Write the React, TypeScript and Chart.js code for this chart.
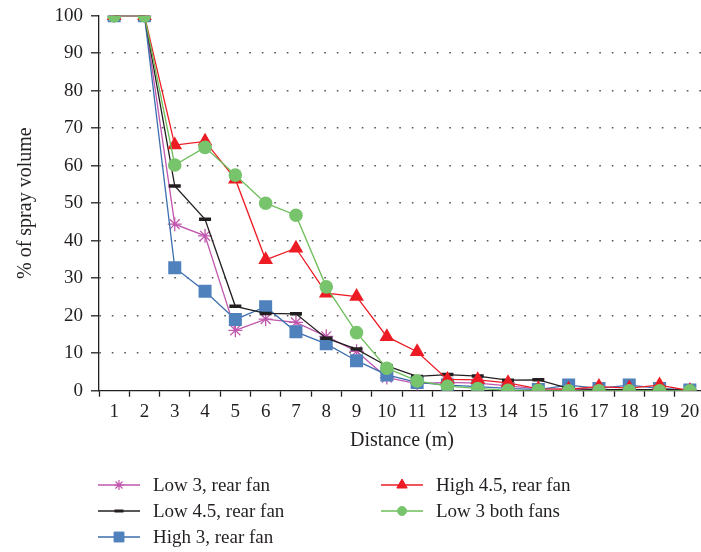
import React, { useEffect, useRef } from 'react';
import { Chart, registerables } from 'chart.js';
import { drawPoint } from 'chart.js/helpers';

Chart.register(...registerables);

const distances = ['1', '2', '3', '4', '5', '6', '7', '8', '9', '10', '11', '12', '13', '14', '15', '16', '17', '18', '19', '20'];
const low3Rear = [100, 100, 44.4, 41.3, 16.1, 19.1, 18.2, 14.5, 10.5, 3.5, 1.9, 2.2, 2.0, 1.3, 0.5, 0.4, 0.3, 0.3, 0.3, 0.2];
const low45Rear = [100, 100, 54.6, 45.7, 22.5, 20.6, 20.5, 14.0, 11.1, 6.6, 3.8, 4.3, 3.9, 2.8, 2.9, 0.6, 0.3, 0.3, 0.3, 0.2];
const high3Rear = [100, 100, 32.8, 26.5, 19.0, 22.4, 15.7, 12.5, 8.0, 4.2, 2.2, 1.5, 1.1, 0.6, 0.3, 1.5, 0.6, 1.5, 0.6, 0.2];
const high45Rear = [100, 100, 65.5, 66.5, 56.4, 34.9, 38.0, 26.0, 25.1, 14.4, 10.4, 3.0, 2.9, 2.1, 0.5, 0.4, 1.1, 0.7, 1.5, 0];
const low3Both = [100, 100, 60.2, 64.9, 57.5, 50.0, 46.8, 27.7, 15.5, 6.0, 2.6, 1.2, 0.6, 0.1, 0.1, 0, 0, 0, 0, 0];
const seriesNames = ['Low 3, rear fan', 'Low 4.5, rear fan', 'High 3, rear fan', 'High 4.5, rear fan', 'Low 3 both fans'];
const yTicks = [0, 10, 20, 30, 40, 50, 60, 70, 80, 90, 100];

const TEXT = '#231F20';
const FONT = "'Liberation Serif', 'Times New Roman', serif";

export default function App() {
  const ref = useRef<HTMLCanvasElement>(null);

  useEffect(() => {
    if (!ref.current) return;

    const legendSlots = [
      { col: 0, row: 0, pr: 5 },
      { col: 0, row: 1, pr: 4.5 },
      { col: 0, row: 2, pr: 7 },
      { col: 1, row: 0, pr: 6 },
      { col: 1, row: 1, pr: 4.5 },
    ];
    const colX = [98, 381];
    const rowY = [485, 511, 537];

    const legendPlugin = {
      id: 'customLegend',
      afterDraw(chart: any) {
        const ctx = chart.ctx;
        chart.data.datasets.forEach((ds: any, i: number) => {
          const slot = legendSlots[i];
          const x = colX[slot.col];
          const y = rowY[slot.row];
          ctx.save();
          ctx.strokeStyle = ds.borderColor;
          ctx.lineWidth = 1.4;
          ctx.beginPath();
          ctx.moveTo(x, y);
          ctx.lineTo(x + 42, y);
          ctx.stroke();
          ctx.fillStyle = ds.pointBackgroundColor;
          ctx.strokeStyle = ds.pointBorderColor;
          ctx.lineWidth = ds.pointStyle === 'line' ? 3 : ds.pointStyle === 'star' ? 1.2 : 1;
          drawPoint(ctx, { pointStyle: ds.pointStyle, radius: slot.pr, rotation: 0, borderWidth: ctx.lineWidth }, x + 21, y);
          ctx.fillStyle = TEXT;
          ctx.font = `19px ${FONT}`;
          ctx.textBaseline = 'middle';
          ctx.textAlign = 'left';
          ctx.fillText(seriesNames[i], x + 55, y + 1);
          ctx.restore();
        });
      },
    };

    const chart = new Chart(ref.current, {
      type: 'line',
      data: {
        labels: distances,
        datasets: [
          {
            label: seriesNames[0],
            data: low3Rear,
            borderColor: '#C157AE',
            borderWidth: 1.3,
            pointStyle: 'star',
            pointRadius: 7,
            pointBorderWidth: 1.3,
            pointBackgroundColor: '#C157AE',
            pointBorderColor: '#C157AE',
            order: 5,
          },
          {
            label: seriesNames[1],
            data: low45Rear,
            borderColor: '#231F20',
            borderWidth: 1.3,
            pointStyle: 'line',
            pointRadius: 6,
            pointBorderWidth: 3.5,
            pointBackgroundColor: '#231F20',
            pointBorderColor: '#231F20',
            order: 3,
          },
          {
            label: seriesNames[2],
            data: high3Rear,
            borderColor: '#3C6EAE',
            borderWidth: 1.3,
            pointStyle: 'rect',
            pointRadius: 9.2,
            pointBorderWidth: 0,
            pointBackgroundColor: '#4F81BD',
            pointBorderColor: '#4F81BD',
            order: 4,
          },
          {
            label: seriesNames[3],
            data: high45Rear,
            borderColor: '#ED1C24',
            borderWidth: 1.3,
            pointStyle: 'triangle',
            pointRadius: 8.5,
            pointBorderWidth: 0,
            pointBackgroundColor: '#ED1C24',
            pointBorderColor: '#ED1C24',
            order: 2,
          },
          {
            label: seriesNames[4],
            data: low3Both,
            borderColor: '#6DBE5A',
            borderWidth: 1.3,
            pointStyle: 'circle',
            pointRadius: 6.8,
            pointBorderWidth: 0,
            pointBackgroundColor: '#77C46C',
            pointBorderColor: '#77C46C',
            order: 1,
          },
        ],
      },
      options: {
        animation: false,
        responsive: true,
        maintainAspectRatio: false,
        layout: { autoPadding: false, padding: { left: 0, right: 15, top: 15.7, bottom: 552 - 390.7 - 65 } },
        plugins: {
          legend: { display: false },
          tooltip: { enabled: false },
        },
        scales: {
          x: {
            type: 'category',
            offset: true,
            grid: {
              offset: true,
              drawOnChartArea: false,
              drawTicks: true,
              tickLength: 6,
              tickColor: TEXT,
              tickWidth: 1.3,
              color: TEXT,
            },
            border: { display: true, color: TEXT, width: 1.3 },
            ticks: {
              color: TEXT,
              font: { family: FONT, size: 19 },
              padding: 4,
              maxRotation: 0,
              autoSkip: false,
            },
            title: {
              display: true,
              text: 'Distance (m)',
              color: TEXT,
              font: { family: FONT, size: 20 },
              padding: { top: 0, bottom: 3 },
            },
            afterFit: (scale: any) => {
              scale.height = 65;
              scale.paddingLeft = 0;
              scale.paddingRight = 0;
            },
          },
          y: {
            type: 'linear',
            min: 0,
            max: 100,
            afterBuildTicks: (scale: any) => {
              scale.ticks = yTicks.map((v) => ({ value: v }));
            },
            grid: {
              drawOnChartArea: true,
              drawTicks: true,
              tickLength: 8,
              tickColor: TEXT,
              tickWidth: 1.3,
              lineWidth: 1.6,
              color: (c: any) => (c.tick && (c.tick.value === 0 || c.tick.value === 100) ? 'rgba(0,0,0,0)' : '#555555'),
            },
            border: { display: true, color: TEXT, width: 1.3, dash: [1.6, 10.9] },
            ticks: {
              color: TEXT,
              font: { family: FONT, size: 19 },
              padding: 8,
            },
            title: {
              display: true,
              text: '% of spray volume',
              color: TEXT,
              font: { family: FONT, size: 20 },
              padding: { top: 14, bottom: 0 },
            },
            afterFit: (scale: any) => {
              scale.width = 99;
              scale.paddingTop = 0;
              scale.paddingBottom = 0;
            },
          },
        },
      },
      plugins: [legendPlugin],
    });

    return () => chart.destroy();
  }, []);

  return (
    <div style={{ position: 'fixed', left: 0, top: 0, width: 701, height: 552, overflow: 'hidden', background: '#fff' }}>
      <div style={{ position: 'relative', width: 720, height: 552 }}>
        <canvas ref={ref} />
      </div>
    </div>
  );
}
